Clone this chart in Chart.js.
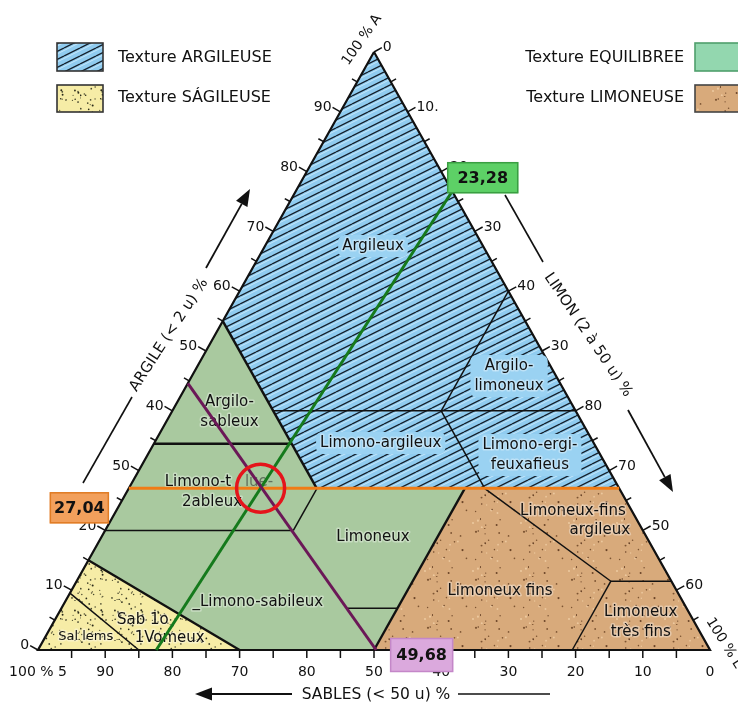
<!DOCTYPE html>
<html>
<head>
<meta charset="utf-8">
<script src="https://cdn.jsdelivr.net/npm/chart.js@4/dist/chart.umd.min.js"></script>
<style>
  html, body { margin: 0; padding: 0; background: #ffffff; }
  canvas { display: block; }
</style>
</head>
<body>
<canvas id="triangle" width="738" height="702"></canvas>
<script>
// ---- Texture zones, vertices as [argile %, limon %] (sable = 100 - argile - limon)
const zoneArgileuse  = [[100, 0], [27, 73], [27, 28], [55, 0], [100, 0]];
const zoneEquilibree = [[55, 0], [15, 0], [0, 30], [0, 50], [27, 50], [27, 28], [55, 0]];
const zoneSableuse   = [[15, 0], [0, 0], [0, 30], [15, 0]];
const zoneLimoneuse  = [[27, 50], [27, 73], [0, 100], [0, 50], [27, 50]];

// Class boundaries inside the triangle
const limitesFines = [
  [[40, 15], [40, 60]],
  [[40, 40], [60, 40]],
  [[40, 40], [27, 53]],
  [[20, 0], [20, 28]],
  [[27, 28], [20, 28]],
  [[7, 42.5], [7, 50]],
  [[9.5, 0], [0, 15]],
  [[27, 53], [11.5, 79.5]],
  [[11.5, 79.5], [11.5, 88.5]],
  [[11.5, 79.5], [0, 79.5]]
];
const limitesFortes = [
  [[34.5, 0], [34.5, 20.5]],
  [[55, 0], [27, 28]],
  [[27, 50], [0, 50]],
  [[15, 0], [0, 30]]
];
const contourTriangle = [[100, 0], [0, 0], [0, 100], [100, 0]];

// Sample reading
const argileMesure = 27.04;
const limonMesure = 23.28;
const sableMesure = 49.68;
const limonPiedLigneVerte = 17.6;     // where the silt line meets the sand axis
const argileTeteLignePourpre = 44.6;  // where the sand line meets the clay axis

// Axis graduations (every 10 %) and their printed labels
const graduations = [0, 10, 20, 30, 40, 50, 60, 70, 80, 90];
const etiquettesArgile = ['0', '10', '20', '50', '40', '50', '60', '70', '80', '90'];
const etiquettesLimon  = ['0', '10.', '20', '30', '40', '30', '80', '70', '50', '60'];
const graduationsSable = [100, 90, 80, 70, 60, 50, 40, 30, 20, 10, 0];
const etiquettesSable  = ['100 % 5', '90', '80', '70', '80', '50', '40', '30', '20', '10', '0'];

// Legend entries
const legendeGauche = ['Texture ARGILEUSE', 'Texture SÁGILEUSE'];
const legendeDroite = ['Texture EQUILIBREE', 'Texture LIMONEUSE'];

// ---- helpers
const FONT = '"DejaVu Sans", "Noto Sans", sans-serif';
const ternaire = ([a, l]) => ({ x: l + a / 2, y: a });

const canvas = document.getElementById('triangle');
const ctx0 = canvas.getContext('2d');

function motifHachures() {
  const t = document.createElement('canvas');
  t.width = 16; t.height = 8;
  const g = t.getContext('2d');
  g.fillStyle = '#90ccf0';
  g.fillRect(0, 0, 16, 8);
  g.strokeStyle = 'rgba(235,248,255,0.6)';
  g.lineWidth = 1;
  for (let k = -2; k <= 1; k++) { g.beginPath(); g.moveTo(0, 10.5 + 8 * k); g.lineTo(16, 2.5 + 8 * k); g.stroke(); }
  g.strokeStyle = '#15202c';
  g.lineWidth = 1.35;
  for (let k = -1; k <= 1; k++) { g.beginPath(); g.moveTo(0, 8 + 8 * k); g.lineTo(16, 8 * k); g.stroke(); }
  return ctx0.createPattern(t, 'repeat');
}

function motifPoints(taille, fond, couleurs, nombre, rMin, rMax, graine) {
  const t = document.createElement('canvas');
  t.width = taille; t.height = taille;
  const g = t.getContext('2d');
  g.fillStyle = fond;
  g.fillRect(0, 0, taille, taille);
  let s = graine;
  const suivant = () => (s = (s * 16807) % 2147483647) / 2147483647;
  for (let i = 0; i < nombre; i++) {
    const x = suivant() * taille, y = suivant() * taille;
    const r = rMin + suivant() * (rMax - rMin);
    g.fillStyle = couleurs[i % couleurs.length];
    g.beginPath(); g.arc(x, y, r, 0, Math.PI * 2); g.fill();
  }
  return ctx0.createPattern(t, 'repeat');
}

const fondBleu = motifHachures();
const fondJaune = motifPoints(40, '#f6eca6', ['#2a2a1a', '#4a4a30'], 46, 0.55, 1.0, 11);
const fondBrun = motifPoints(48, '#d8aa7b', ['#6a4428', '#7c5432', '#ecc89e'], 30, 0.6, 1.1, 29);
const fondVert = '#a9c99f';

// ---- datasets
const datasets = [];
function zone(label, sommets, fond, order) {
  datasets.push({
    label, data: sommets.map(ternaire), showLine: true, fill: 'shape',
    backgroundColor: fond, borderColor: 'rgba(0,0,0,0)', borderWidth: 0,
    pointRadius: 0, tension: 0, order, clip: false
  });
}
function trait(label, sommets, couleur, epaisseur, order) {
  datasets.push({
    label, data: sommets.map(ternaire), showLine: true, fill: false,
    borderColor: couleur, borderWidth: epaisseur, pointRadius: 0, tension: 0,
    borderCapStyle: 'butt', order, clip: false
  });
}

zone('argileuse', zoneArgileuse, fondBleu, 100);
zone('equilibree', zoneEquilibree, fondVert, 100);
zone('sableuse', zoneSableuse, fondJaune, 100);
zone('limoneuse', zoneLimoneuse, fondBrun, 100);
limitesFines.forEach((s, i) => trait('limite-' + i, s, '#111111', 1.5, 90));
limitesFortes.forEach((s, i) => trait('limite-forte-' + i, s, '#111111', 2.4, 85));
trait('contour', contourTriangle, '#111111', 2.2, 80);

// Reading lines built from the measured values
const teteVerte = [100 - limonMesure, limonMesure];
const piedVert = [0, limonPiedLigneVerte];
const piedPourpre = [0, 100 - sableMesure];
const tetePourpre = [argileTeteLignePourpre, 0];
const fracVert = argileMesure / teteVerte[0];
const pointMesure = [argileMesure, piedVert[1] + fracVert * (teteVerte[1] - piedVert[1])];

trait('ligne-argile', [[argileMesure, 0], [argileMesure, 100 - argileMesure]], '#f07c16', 3, 60);
trait('ligne-limon', [piedVert, teteVerte], '#157a1c', 3, 50);
trait('ligne-sable', [tetePourpre, piedPourpre], '#6b1857', 3, 40);
datasets.push({
  label: 'point-mesure', data: [ternaire(pointMesure)], showLine: false,
  pointRadius: 24, pointBorderWidth: 3.5, pointBorderColor: '#e5141b',
  pointBackgroundColor: 'rgba(0,0,0,0)', order: 30, clip: false
});

// ---- drawing helpers
function texte(ctx, t, x, y, opts = {}) {
  ctx.save();
  ctx.font = opts.font || ('15px ' + FONT);
  ctx.textAlign = opts.align || 'center';
  ctx.textBaseline = 'middle';
  ctx.translate(x, y);
  if (opts.rot) ctx.rotate(opts.rot * Math.PI / 180);
  if (opts.halo) {
    ctx.lineWidth = 3;
    ctx.strokeStyle = opts.halo;
    ctx.lineJoin = 'round';
    ctx.strokeText(t, 0, 0);
  }
  ctx.fillStyle = opts.color || '#111111';
  ctx.fillText(t, 0, 0);
  ctx.restore();
}
function segment(ctx, x1, y1, x2, y2, w = 1.6) {
  ctx.save();
  ctx.strokeStyle = '#111111'; ctx.lineWidth = w;
  ctx.beginPath(); ctx.moveTo(x1, y1); ctx.lineTo(x2, y2); ctx.stroke();
  ctx.restore();
}
function fleche(ctx, x1, y1, x2, y2) {
  const ang = Math.atan2(y2 - y1, x2 - x1);
  const L = 17, H = 6.5;
  const bx = x2 - L * Math.cos(ang), by = y2 - L * Math.sin(ang);
  segment(ctx, x1, y1, bx, by, 1.8);
  ctx.save();
  ctx.fillStyle = '#111111';
  ctx.beginPath();
  ctx.moveTo(x2, y2);
  ctx.lineTo(bx + H * Math.sin(ang), by - H * Math.cos(ang));
  ctx.lineTo(bx - H * Math.sin(ang), by + H * Math.cos(ang));
  ctx.closePath(); ctx.fill();
  ctx.restore();
}

// Zone names, anchored in chart units (x: position along the base, y: argile %)
const nomsZones = [
  { t: ['Argileux'], x: 49.85, y: 67.56, bg: true },
  { t: ['Argilo-', 'limoneux'], x: 70.1, y: 45.8, bg: true },
  { t: ['Argilo-', 'sableux'], x: 28.5, y: 39.8 },
  { t: ['Limono-argileux'], x: 51.0, y: 34.62, bg: true },
  { t: ['Limono-ergi-', 'feuxafieus'], x: 73.2, y: 32.6, bg: true },
  { t: ['Limono-t'], x: 23.8, y: 28.1 },
  { t: ['lue-'], x: 32.9, y: 28.1, color: 'rgba(40,40,40,0.55)' },
  { t: ['2ableux'], x: 25.9, y: 24.75 },
  { t: ['Limoneux'], x: 49.85, y: 18.9 },
  { t: ['_Limono-sabileux'], x: 32.7, y: 8.0 },
  { t: ['Sab 1o'], x: 15.6, y: 5.0 },
  { t: ['1Vomeux'], x: 19.6, y: 2.0 },
  { t: ['Sal lems'], x: 7.1, y: 2.2, font: '13px ' + FONT },
  { t: ['Limoneux-fins'], x: 79.6, y: 23.25 },
  { t: ['argileux'], x: 83.6, y: 20.05 },
  { t: ['Limoneux fins'], x: 68.75, y: 9.9 },
  { t: ['Limoneux', 'très fins'], x: 89.7, y: 4.7 }
];

function dessinerNomsZones(chart) {
  const ctx = chart.ctx, sx = chart.scales.x, sy = chart.scales.y;
  nomsZones.forEach(z => {
    const cx = sx.getPixelForValue(z.x), cy = sy.getPixelForValue(z.y);
    const lh = 20, n = z.t.length;
    const font = z.font || ('15px ' + FONT);
    if (z.bg) {
      ctx.save();
      ctx.font = font;
      const w = Math.max(...z.t.map(s => ctx.measureText(s).width));
      ctx.fillStyle = '#9ad2f2';
      ctx.beginPath();
      ctx.roundRect(cx - w / 2 - 4, cy - n * lh / 2 - 1, w + 8, n * lh + 2, 6);
      ctx.fill();
      ctx.restore();
    }
    z.t.forEach((s, i) => {
      texte(ctx, s, cx, cy + (i - (n - 1) / 2) * lh,
        { font, color: z.color, halo: z.color ? null : 'rgba(255,255,255,0.35)' });
    });
  });
}

function dessinerAxes(chart) {
  const ctx = chart.ctx, sx = chart.scales.x, sy = chart.scales.y;
  const P = ([a, l]) => [sx.getPixelForValue(l + a / 2), sy.getPixelForValue(a)];
  const cotes = [
    { at: v => [v, 0], from: [0, 0], to: [100, 0], labels: etiquettesArgile, vals: graduations, align: 'right' },
    { at: v => [100 - v, v], from: [100, 0], to: [0, 100], labels: etiquettesLimon, vals: graduations, align: 'left' },
  ];
  ctx.save();
  ctx.strokeStyle = '#111111';
  ctx.lineWidth = 1.5;
  cotes.forEach(c => {
    const [x0, y0] = P(c.from), [x1, y1] = P(c.to);
    const len = Math.hypot(x1 - x0, y1 - y0);
    const dx = (x1 - x0) / len, dy = (y1 - y0) / len;
    const nx = dy, ny = -dx;
    for (let v = 0; v < 100; v += 5) {
      const [px, py] = P(c.at(v));
      const major = v % 10 === 0;
      const tl = major ? 9 : 6;
      ctx.beginPath(); ctx.moveTo(px, py); ctx.lineTo(px + nx * tl, py + ny * tl); ctx.stroke();
    }
    c.vals.forEach((v, i) => {
      const [px, py] = P(c.at(v));
      const ex = px + nx * 9, ey = py + ny * 9;
      texte(ctx, c.labels[i], ex + (c.align === 'right' ? -1 : 1), ey,
        { font: '14px ' + FONT, align: c.align });
    });
  });
  // sand axis along the base
  const yb = sy.getPixelForValue(0);
  for (let v = 0; v <= 100; v += 5) {
    const px = sx.getPixelForValue(100 - v);
    if (v === 0 || v === 100) continue;
    ctx.beginPath(); ctx.moveTo(px, yb); ctx.lineTo(px, yb + 8); ctx.stroke();
  }
  graduationsSable.forEach((v, i) => {
    texte(ctx, etiquettesSable[i], sx.getPixelForValue(100 - v), yb + 22, { font: '14px ' + FONT });
  });
  ctx.restore();

  // axis titles and arrows
  texte(ctx, 'ARGILE (< 2 u) %', 169, 335, { rot: -57, font: '15px ' + FONT });
  segment(ctx, 83, 483, 132, 397);
  fleche(ctx, 206, 268, 250, 189);
  texte(ctx, 'LIMON (2 à 50 u) %', 588, 335, { rot: 56, font: '15px ' + FONT });
  segment(ctx, 505, 195, 543, 262);
  fleche(ctx, 628, 410, 673, 492);
  texte(ctx, '100 % A', 362, 40, { rot: -55, font: '14px ' + FONT });
  texte(ctx, '100 % L', 724, 643, { rot: 58, font: '14px ' + FONT });
  texte(ctx, 'SABLES (< 50 u) %', 376, 695, { font: '15.5px ' + FONT });
  fleche(ctx, 292, 694, 195, 694);
  segment(ctx, 458, 694, 550, 694);
}

function boite(ctx, t, x, y, w, h, fond, bord) {
  ctx.save();
  ctx.fillStyle = fond;
  ctx.strokeStyle = bord;
  ctx.lineWidth = 1.5;
  ctx.fillRect(x, y, w, h);
  ctx.strokeRect(x + 0.5, y + 0.5, w - 1, h - 1);
  ctx.restore();
  texte(ctx, t, x + w / 2, y + h / 2 + 1, { font: 'bold 16px ' + FONT, color: '#111111' });
}
const fr = v => v.toFixed(2).replace('.', ',');

function dessinerValeurs(chart) {
  const ctx = chart.ctx, sx = chart.scales.x, sy = chart.scales.y;
  const P = ([a, l]) => [sx.getPixelForValue(l + a / 2), sy.getPixelForValue(a)];
  const [gx, gy] = P(teteVerte);
  boite(ctx, fr(limonMesure), gx - 5, gy - 29, 71, 31, '#5dd066', '#3a9e42');
  const [ox, oy] = P([argileMesure, 0]);
  boite(ctx, fr(argileMesure), ox - 79, oy + 4, 59, 31, '#f2a05c', '#e07c24');
  const [sxp, syp] = P(piedPourpre);
  boite(ctx, fr(sableMesure), sxp + 14, syp - 12, 63, 34, '#dba9dd', '#c487c8');
}

function swatch(ctx, x, y, w, h, fond, bord) {
  ctx.save();
  ctx.fillStyle = fond; ctx.fillRect(x, y, w, h);
  ctx.strokeStyle = bord; ctx.lineWidth = 1.6;
  ctx.strokeRect(x, y, w, h);
  ctx.restore();
}
function dessinerLegende(chart) {
  const ctx = chart.ctx;
  swatch(ctx, 57, 43, 46, 28, fondBleu, '#333333');
  swatch(ctx, 57, 85, 46, 27, fondJaune, '#333333');
  texte(ctx, legendeGauche[0], 118, 58, { font: '16px ' + FONT, align: 'left' });
  texte(ctx, legendeGauche[1], 118, 98, { font: '16px ' + FONT, align: 'left' });
  swatch(ctx, 695, 43, 60, 28, '#93d7af', '#4f9f6c');
  swatch(ctx, 695, 85, 60, 27, fondBrun, '#444444');
  texte(ctx, legendeDroite[0], 684, 58, { font: '16px ' + FONT, align: 'right' });
  texte(ctx, legendeDroite[1], 684, 98, { font: '16px ' + FONT, align: 'right' });
}

const decor = {
  id: 'decor',
  afterDatasetDraw(chart, args) {
    if (chart.data.datasets[args.index].label === 'contour') dessinerNomsZones(chart);
  },
  afterDatasetsDraw(chart) {
    dessinerAxes(chart);
    dessinerValeurs(chart);
    dessinerLegende(chart);
  }
};

new Chart(canvas, {
  type: 'scatter',
  data: { datasets },
  options: {
    responsive: false,
    devicePixelRatio: 1,
    animation: false,
    events: [],
    layout: { padding: { left: 38, right: 28, top: 52, bottom: 52 } },
    scales: {
      x: { type: 'linear', min: 0, max: 100, display: false },
      y: { type: 'linear', min: 0, max: 100, display: false }
    },
    plugins: { legend: { display: false }, tooltip: { enabled: false } }
  },
  plugins: [decor]
});
</script>
</body>
</html>
